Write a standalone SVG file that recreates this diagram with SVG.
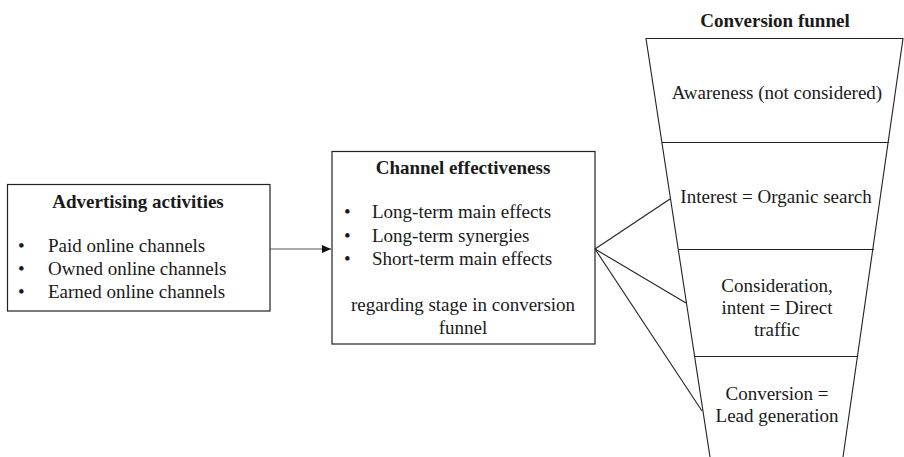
<svg xmlns="http://www.w3.org/2000/svg" width="904" height="457" viewBox="0 0 904 457" font-family="'Liberation Serif', 'Times New Roman', serif">
<style>
text{font-family:"Liberation Serif","Times New Roman",serif;font-size:19px;fill:#1a1a1a}
.b{font-weight:bold}
.c{text-anchor:middle}
.box{fill:#fff;stroke:#222;stroke-width:1.2}
.ln{fill:none;stroke:#222;stroke-width:1.1}
</style>
<defs>
<marker id="ah" markerWidth="10" markerHeight="10" refX="9" refY="4" orient="auto" markerUnits="userSpaceOnUse">
<path d="M0,0 L9,4 L0,8 Z" fill="#111"/>
</marker>
</defs>
<rect width="904" height="457" fill="#fff"/>
<g id="advertising">
<rect class="box" x="7.5" y="184.5" width="262.5" height="126.5"/>
<text class="b c" x="138" y="208">Advertising activities</text>
<text x="18" y="252">•</text><text x="48" y="252">Paid online channels</text>
<text x="18" y="275">•</text><text x="48" y="275">Owned online channels</text>
<text x="18" y="298">•</text><text x="48" y="298">Earned online channels</text>
</g>
<g id="effectiveness">
<rect class="box" x="332" y="151.5" width="263" height="192.5"/>
<text class="b c" x="463" y="174">Channel effectiveness</text>
<text x="344" y="218">•</text><text x="372" y="218">Long-term main effects</text>
<text x="344" y="242">•</text><text x="372" y="242">Long-term synergies</text>
<text x="344" y="265">•</text><text x="372" y="265">Short-term main effects</text>
<text class="c" x="463" y="311">regarding stage in conversion</text>
<text class="c" x="463" y="334">funnel</text>
</g>
<g id="funnel">
<text class="b c" x="775" y="27">Conversion funnel</text>
<path class="ln" d="M710,457 L646,38.5 L903,38.5 L843,457"/>
<line class="ln" x1="662" y1="142.5" x2="889" y2="142.5"/>
<line class="ln" x1="679" y1="249.5" x2="874" y2="249.5"/>
<line class="ln" x1="695" y1="356.5" x2="858" y2="356.5"/>
<text class="c" x="777" y="99">Awareness (not considered)</text>
<text class="c" x="776" y="203">Interest = Organic search</text>
<text class="c" x="777" y="292">Consideration,</text>
<text class="c" x="777" y="314">intent = Direct</text>
<text class="c" x="777" y="336">traffic</text>
<text class="c" x="777" y="400">Conversion =</text>
<text class="c" x="777" y="422">Lead generation</text>
</g>
<g id="connectors">
<line x1="270" y1="249" x2="331" y2="249" stroke="#555" stroke-width="1" marker-end="url(#ah)"/>
<line class="ln" x1="595" y1="249" x2="670" y2="199"/>
<line class="ln" x1="595" y1="249" x2="686" y2="303"/>
<line class="ln" x1="595" y1="249" x2="702" y2="411"/>
</g>
</svg>
